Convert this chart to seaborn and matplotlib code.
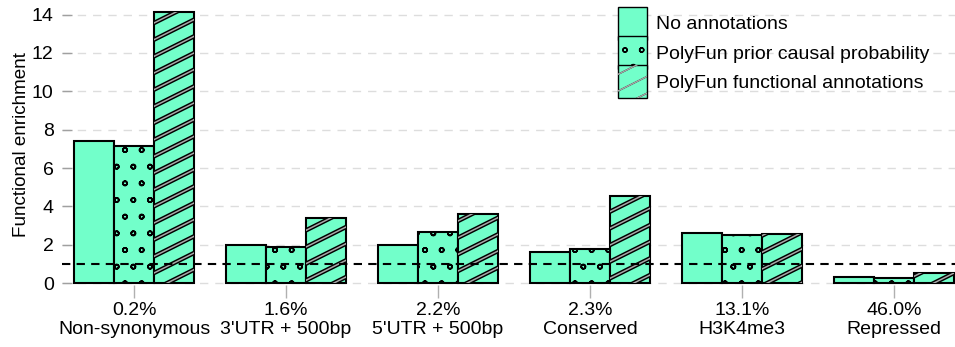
import numpy as np
import pandas as pd
import matplotlib
matplotlib.use("Agg")
import matplotlib.pyplot as plt
import matplotlib.hatch as mhatch
from matplotlib.path import Path
import seaborn as sns
from matplotlib.patches import Patch, Rectangle
from matplotlib.legend_handler import HandlerTuple

categories = ["Non-synonymous", "3'UTR + 500bp", "5'UTR + 500bp", "Conserved", "H3K4me3", "Repressed"]
percents = ["0.2%", "1.6%", "2.2%", "2.3%", "13.1%", "46.0%"]
methods = ["No annotations", "PolyFun prior causal probability", "PolyFun functional annotations"]
no_annot = [7.42, 1.98, 1.98, 1.62, 2.61, 0.31]
prior_causal = [7.16, 1.88, 2.66, 1.78, 2.50, 0.28]
functional = [14.16, 3.40, 3.60, 4.55, 2.56, 0.50]

BAR_COLOR = "#72FFCA"


# shallower diagonal stripes than the stock '/' hatch (slope 1/2, tiles seamlessly)
class ShallowHatch(mhatch.HatchPatternBase):
    def __init__(self, hatch, density):
        n = hatch.count("/")
        self.offsets = np.arange(-1.5, 1.5 + 1e-9, 1 / 6) if n else np.array([])
        self.num_vertices = len(self.offsets) * 2

    def set_vertices_and_codes(self, vertices, codes):
        c = self.offsets
        vertices[0::2, 0] = -0.5
        vertices[0::2, 1] = c - 0.25
        vertices[1::2, 0] = 1.5
        vertices[1::2, 1] = c + 0.75
        codes[0::2] = Path.MOVETO
        codes[1::2] = Path.LINETO


# smaller rings for the 'o' hatch
class TinyCircles(mhatch.SmallCircles):
    size = 0.13


if hasattr(mhatch, "_hatch_types"):
    swap = {mhatch.NorthEastHatch: ShallowHatch, mhatch.SmallCircles: TinyCircles}
    mhatch._hatch_types = [swap.get(t, t) for t in mhatch._hatch_types]

sns.set_style("white")
plt.rcParams["font.family"] = ["Liberation Sans", "DejaVu Sans"]
plt.rcParams["hatch.linewidth"] = 1.0

df = pd.DataFrame({
    "category": categories * 3,
    "method": np.repeat(methods, len(categories)),
    "enrichment": no_annot + prior_causal + functional,
})

fig = plt.figure(figsize=(9.55, 3.47), dpi=100)
ax = fig.add_axes([62 / 955, 1 - 285 / 347, 1 - 62 / 955, 280 / 347])

sns.barplot(data=df, x="category", y="enrichment", hue="method", order=categories,
            hue_order=methods, palette=[BAR_COLOR] * 3, width=0.79, edgecolor="black",
            linewidth=1.5, saturation=1, errorbar=None, legend=False, ax=ax, zorder=3)


def set_hlw(p, lw):
    if hasattr(p, "set_hatch_linewidth"):
        p.set_hatch_linewidth(lw)


# dots for prior causal probability
for p in ax.containers[1]:
    p.set_hatch("o")
    set_hlw(p, 1.2)

# double-stroke diagonal hatch for functional annotations
for p in ax.containers[2]:
    p.set_hatch("/")
    set_hlw(p, 3.2)
    with plt.rc_context({"hatch.linewidth": 1.1}):
        over = Rectangle(p.get_xy(), p.get_width(), p.get_height(), facecolor="none",
                         edgecolor="#a8a8a8", linewidth=0, hatch="/", zorder=3.5)
    set_hlw(over, 1.1)
    ax.add_patch(over)

ax.axhline(1, color="black", linestyle=(0, (4, 3)), linewidth=1.5, zorder=4)

ax.set_ylim(-0.1, 14.5)
ax.set_xlim(-0.474, 5.40)
ax.set_yticks(range(0, 15, 2))
ax.set_xticks(range(len(categories)))
ax.set_xticklabels([f"{p}\n{c}" for p, c in zip(percents, categories)], fontsize=14, color="black")
ax.tick_params(axis="y", labelsize=14, labelcolor="black", length=7, direction="in",
               color="#a0a0a0", width=1, left=True, pad=6)
ax.tick_params(axis="x", length=9, color="#b0b0b0", width=1, bottom=True, pad=3)
ax.yaxis.grid(True, color="#dddddd", linestyle=(0, (6, 5)), linewidth=1, zorder=0)
ax.set_axisbelow(True)
ax.set_xlabel("")
ax.set_ylabel("Functional enrichment", fontsize=13.6, color="black", labelpad=1)
for s in ax.spines.values():
    s.set_visible(False)

with plt.rc_context({"hatch.linewidth": 1.2}):
    h1 = Patch(facecolor=BAR_COLOR, edgecolor="black", linewidth=1)
    h2 = Patch(facecolor=BAR_COLOR, edgecolor="black", linewidth=1, hatch="o")
with plt.rc_context({"hatch.linewidth": 3.2}):
    h3a = Patch(facecolor=BAR_COLOR, edgecolor="black", linewidth=1, hatch="/")
with plt.rc_context({"hatch.linewidth": 1.1}):
    h3b = Patch(facecolor="none", edgecolor="#a8a8a8", linewidth=0, hatch="/")
set_hlw(h2, 1.2)
set_hlw(h3a, 3.2)
set_hlw(h3b, 1.1)
leg = ax.legend([h1, h2, (h3a, h3b)], methods, loc="upper right", bbox_to_anchor=(0.9805, 1.02),
                frameon=False, fontsize=14, handleheight=2.19, handlelength=1.5,
                labelspacing=-0.17, handletextpad=0.5, borderaxespad=0.0,
                handler_map={tuple: HandlerTuple(ndivide=1, pad=0)})
for t in leg.get_texts():
    t.set_color("black")

fig.savefig("out.png", dpi=100)
